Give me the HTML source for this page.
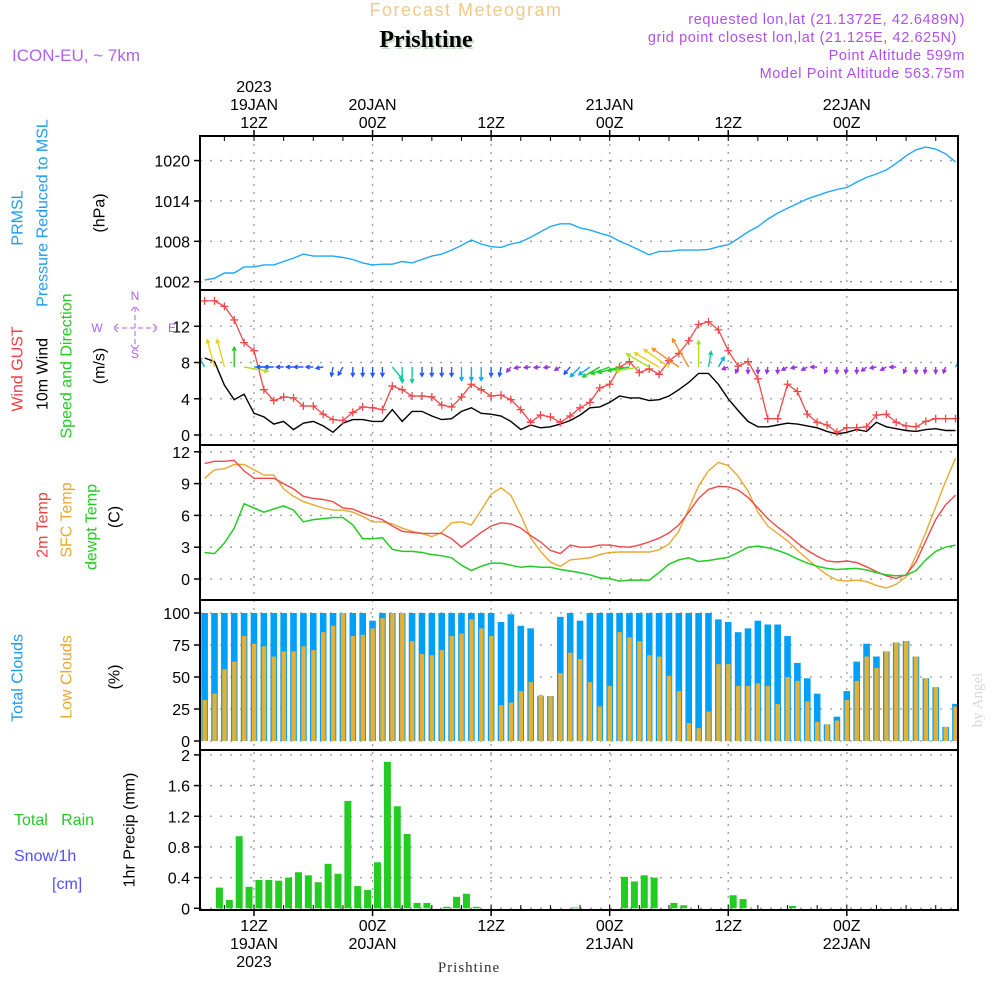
<!DOCTYPE html>
<html><head><meta charset="utf-8"><style>
html,body{margin:0;padding:0;background:#fff;}
svg{display:block;font-family:"Liberation Sans","DejaVu Sans",sans-serif;}
</style></head><body>
<svg id="chart" width="1000" height="1000" viewBox="0 0 1000 1000" xmlns="http://www.w3.org/2000/svg">
<g id="grid"></g>
<g id="marks"></g>
<g id="axes"></g>
<g id="labels">
  <text x="466" y="16" text-anchor="middle" font-size="18" fill="#f2c98a" letter-spacing="1.5">Forecast Meteogram</text>
  <text x="428" y="49" text-anchor="middle" font-size="24" font-weight="bold" fill="#c8dcc8" font-family="Liberation Serif, serif">Prishtine</text>
  <text x="426" y="47" text-anchor="middle" font-size="24" font-weight="bold" fill="#000" font-family="Liberation Serif, serif">Prishtine</text>
  <text x="12" y="61" font-size="17" fill="#b060f0">ICON-EU, ~ 7km</text>
  <text x="965" y="24" text-anchor="end" font-size="14.5" fill="#b050e8" letter-spacing="0.6">requested lon,lat (21.1372E, 42.6489N)</text>
  <text x="957" y="42" text-anchor="end" font-size="14.5" fill="#b050e8" letter-spacing="0.6">grid point closest lon,lat (21.125E, 42.625N)</text>
  <text x="965" y="60" text-anchor="end" font-size="14.5" fill="#b050e8" letter-spacing="0.6">Point Altitude 599m</text>
  <text x="965" y="78" text-anchor="end" font-size="14.5" fill="#b050e8" letter-spacing="0.6">Model Point Altitude 563.75m</text>

  <g font-size="16" text-anchor="middle" dominant-baseline="central">
    <text transform="translate(18,218) rotate(-90)" fill="#1e9cf0">PRMSL</text>
    <text transform="translate(43,213) rotate(-90)" fill="#1e9cf0">Pressure Reduced to MSL</text>
    <text transform="translate(100,213) rotate(-90)" fill="#000">(hPa)</text>
    <text transform="translate(18,369) rotate(-90)" fill="#f04040">Wind GUST</text>
    <text transform="translate(43,374) rotate(-90)" fill="#000">10m Wind</text>
    <text transform="translate(67,366) rotate(-90)" fill="#22cc22">Speed and Direction</text>
    <text transform="translate(100,366) rotate(-90)" fill="#000">(m/s)</text>
    <text transform="translate(43,525) rotate(-90)" fill="#f04040">2m Temp</text>
    <text transform="translate(67,520) rotate(-90)" fill="#eaa830">SFC Temp</text>
    <text transform="translate(92,527) rotate(-90)" fill="#22cc22">dewpt Temp</text>
    <text transform="translate(115,517) rotate(-90)" fill="#000">(C)</text>
    <text transform="translate(18,678) rotate(-90)" fill="#1e9cf0">Total Clouds</text>
    <text transform="translate(67,677) rotate(-90)" fill="#eaa830">Low Clouds</text>
    <text transform="translate(115,677) rotate(-90)" fill="#000">(%)</text>
    <text transform="translate(130,830) rotate(-90)" fill="#000">1hr Precip (mm)</text>
  </g>
  <text x="14" y="825" font-size="16" fill="#22cc22" xml:space="preserve">Total   Rain</text>
  <text x="14" y="861" font-size="16" fill="#5050ff">Snow/1h</text>
  <text x="52" y="889" font-size="16" fill="#5050ff">[cm]</text>
  <g fill="#b060f0" stroke="#b060f0" font-size="12" text-anchor="middle">
    <text x="135" y="300" stroke="none">N</text>
    <text x="135" y="358" stroke="none">S</text>
    <text x="97" y="332" stroke="none">W</text>
    <text x="172" y="332" stroke="none">E</text>
    <path d="M114 328 H157 M135 307 V349 M118 324 L113 328 L118 332 M153 324 L158 328 L153 332 M131 311 L135 306 L139 311 M131 345 L135 350 L139 345" fill="none" stroke-width="1" stroke-dasharray="5 3"/>
  </g>
  <text x="469" y="972" text-anchor="middle" font-size="15" fill="#333" font-family="Liberation Serif, serif" letter-spacing="1">Prishtine</text>
  <text transform="translate(982,700) rotate(-90)" text-anchor="middle" font-size="15" fill="#d8d8d8" font-family="Liberation Serif, serif">by Angel</text>
</g>
</svg>
<script>
// ---------- DATA ----------
// hours relative to 19JAN 12Z, hourly from -5 to 71
const startHour = -5;
const pressure = [1002.25,1002.5,1003.3,1003.3,1004.2,1004.2,1004.5,1004.5,1005.0,1005.5,1006.1,1005.8,1005.8,1005.8,1005.6,1005.3,1004.8,1004.5,1004.6,1004.6,1005.0,1004.8,1005.3,1005.8,1006.1,1006.7,1007.4,1008.2,1007.6,1007.2,1007.1,1007.6,1007.9,1008.6,1009.4,1010.2,1010.6,1010.6,1010.0,1009.7,1009.2,1008.8,1008.0,1007.4,1006.7,1006.0,1006.5,1006.5,1006.7,1006.7,1006.7,1006.8,1007.2,1007.5,1008.4,1009.4,1010.2,1011.3,1012.2,1012.9,1013.6,1014.3,1014.8,1015.3,1015.7,1016.0,1016.8,1017.5,1018.0,1018.6,1019.6,1020.7,1021.6,1022.0,1021.7,1021.0,1019.8];
const windGust = [14.8,14.8,14.2,12.7,10.2,9.3,5.0,3.8,4.2,4.1,3.2,3.2,2.3,1.7,1.6,2.5,3.1,3.0,2.8,5.4,5.0,4.3,4.3,4.2,3.3,3.1,4.2,5.6,5.0,4.3,4.4,3.9,2.8,1.4,2.2,2.0,1.4,2.1,3.0,3.6,5.2,5.6,7.5,8.1,6.9,7.3,6.7,8.2,9.0,10.4,12.2,12.5,11.6,9.3,7.6,8.1,6.2,1.8,1.8,5.6,4.8,2.3,1.4,1.1,0.3,0.8,0.8,0.9,2.2,2.3,1.4,1.0,0.9,1.5,1.8,1.8,1.8];
const wind10m = [8.5,8.1,5.5,3.9,4.5,2.4,2.0,1.2,1.5,0.6,1.3,1.5,1.0,0.3,1.3,1.7,1.7,1.5,1.5,2.8,1.5,2.6,2.6,2.1,1.7,1.8,2.6,3.0,2.4,2.3,2.1,1.5,0.6,1.1,0.8,0.9,1.2,1.6,2.2,3.0,3.1,3.6,4.3,4.1,4.1,3.8,3.9,4.3,5.0,5.8,6.8,6.8,5.6,4.0,2.7,1.5,0.9,0.9,1.1,1.3,1.2,1.0,0.8,0.4,0.1,0.3,0.6,0.4,1.4,0.9,0.7,0.5,0.4,0.6,0.7,0.5,0.5];
const windDir = [330,345,345,0,100,90,270,270,270,270,270,270,260,190,210,180,180,180,180,140,180,180,180,180,180,180,180,180,180,180,190,220,260,265,265,265,240,220,225,235,240,250,255,260,260,300,300,305,305,330,0,10,30,250,200,180,180,190,180,240,260,240,270,200,180,190,180,230,260,240,270,200,180,190,180,200,30];
const arrowSpeed = [2,6,6,4,5,3,1,1.5,1,1,1.5,1,1,1.5,1.5,1.5,1.5,1.5,1.5,3,3,3,1.5,1.5,1.5,1.5,2.5,2.5,2.5,1.5,1.5,0.8,0.8,0.8,0.8,0.8,0.8,1.5,2.5,2.5,4,4,4.5,4.5,5,5.5,6,6.5,7,7,5.5,3,2,0.8,0.8,0.8,0.8,0.8,0.8,0.8,0.8,0.8,0.8,0.8,0.8,0.8,0.8,0.8,0.8,0.8,0.8,0.8,0.8,0.8,0.8,0.8,2];
const temp2m = [10.9,11.1,11.1,11.2,10.2,9.5,9.5,9.5,9.0,8.5,7.8,7.6,7.5,7.3,6.7,6.6,6.2,5.9,5.6,5.0,4.5,4.4,4.3,4.3,4.3,3.8,3.0,3.7,4.4,5.0,5.3,5.2,4.8,4.1,3.5,2.7,2.4,3.2,3.0,3.0,3.2,3.2,3.05,3.0,3.2,3.5,3.85,4.35,5.1,6.3,7.6,8.45,8.75,8.7,8.4,7.7,6.7,5.7,4.9,4.2,3.4,2.7,2.15,1.7,1.6,1.7,1.55,1.15,0.7,0.3,0.06,0.4,1.6,3.6,5.6,7.0,7.9];
const tempSfc = [9.5,10.3,10.4,10.8,10.8,10.3,9.8,9.8,8.5,7.8,7.3,7.0,6.7,6.5,6.5,6.3,5.9,5.4,5.4,5.2,4.8,4.5,4.3,4.0,4.4,5.3,5.4,5.1,6.5,8.0,8.6,7.9,6.0,3.9,2.6,1.6,1.2,1.8,1.9,2.0,2.3,2.5,2.55,2.55,2.55,2.55,2.75,3.3,4.5,6.6,8.8,10.2,11.0,10.7,9.7,8.3,6.3,5.0,4.3,3.6,2.7,1.9,1.1,0.4,-0.1,-0.2,-0.1,-0.25,-0.6,-0.85,-0.5,0.2,2.2,4.4,6.8,9.2,11.4];
const tempDew = [2.5,2.4,3.4,4.8,7.1,6.7,6.3,6.6,6.9,6.5,5.4,5.6,5.7,5.8,5.8,5.1,3.8,3.8,3.9,2.8,2.6,2.6,2.5,2.3,2.2,2.0,1.3,0.8,1.2,1.5,1.5,1.3,1.1,1.2,1.1,1.1,0.9,0.75,0.6,0.4,0.1,0.05,-0.2,-0.1,-0.1,-0.1,0.6,1.4,1.8,2.0,1.65,1.75,1.9,2.05,2.5,3.0,3.1,2.95,2.7,2.35,1.9,1.5,1.2,1.0,0.9,0.95,1.0,0.85,0.6,0.4,0.3,0.35,0.8,1.8,2.6,3.0,3.2];
const cloudTotal = [100,100,100,100,100,100,100,100,100,100,100,100,100,100,100,100,100,94,100,100,100,100,100,100,100,100,100,100,100,100,93,99,90,88,35,35,97,100,94,100,100,100,100,100,100,100,100,100,100,100,100,100,95,93,85,88,94,91,91,82,61,49,37,13,19,39,62,76,66,70,77,78,66,49,42,11,29];
const cloudLow = [32,37,56,62,82,76,74,66,70,70,74,71,85,90,100,82,83,88,96,100,100,78,68,67,71,82,84,95,88,82,28,30,39,46,36,35,53,69,64,46,27,43,85,81,78,67,66,51,39,14,10,23,60,60,43,43,45,43,29,50,47,31,15,13,16,32,47,66,57,70,77,78,66,49,42,11,27];
const precipStart = -5.5;
const precip = [0,0,0.27,0.11,0.94,0.28,0.37,0.37,0.36,0.40,0.47,0.43,0.34,0.58,0.45,1.40,0.29,0.24,0.60,1.91,1.33,0.97,0.07,0.07,0,0.02,0.15,0.19,0.02,0,0,0,0,0,0,0,0,0,0.01,0,0,0,0,0.41,0.35,0.43,0.40,0,0.07,0.04,0,0,0,0,0.17,0.12,0,0,0,0,0.03,0,0,0,0,0,0,0,0,0,0,0,0,0,0,0,0];
const pressTicks = [1002,1008,1014,1020];
const windTicks = [0,4,8,12];
const tempTicks = [0,3,6,9,12];
const cloudTicks = [0,25,50,75,100];
const precipTicks = [0,0.4,0.8,1.2,1.6,2];
const precipTickLabels = ["0","0.4","0.8","1.2","1.6","2"];
const timeTicks = [0,12,24,36,48,60];
const timeHourLabels = ["12Z","00Z","12Z","00Z","12Z","00Z"];
const timeDayLabels = ["19JAN","20JAN","","21JAN","","22JAN"];

// ---------- SCALES ----------
const X0=200, X1=958;
const xOf = h => 254 + h*9.88;
const yP = v => 281.7 - (v-1002)*6.73;
const yW = v => 435 - v*9.06;
const yT = v => 579 - v*10.6;
const yC = v => 741 - v*1.28;
const yR = v => 908.3 - v*76.7;
const panels = [[136,290],[290,445],[445,600],[600,750],[750,910]];
const NS='http://www.w3.org/2000/svg';
function mk(tag, attrs, parent){const e=document.createElementNS(NS,tag);for(const k in attrs)e.setAttribute(k,attrs[k]);parent.appendChild(e);return e;}
const G=document.getElementById('grid'), M=document.getElementById('marks'), A=document.getElementById('axes');

const defs=mk('defs',{},M);
panels.forEach((p,i)=>{const c=mk('clipPath',{id:'cp'+i},defs);mk('rect',{x:X0,y:p[0],width:X1-X0,height:p[1]-p[0]},c);});

timeTicks.forEach(h=>{
  const l=mk('line',{x1:xOf(h),x2:xOf(h),y1:136,y2:910,stroke:'#999','stroke-width':1.3,'stroke-dasharray':'2 6'},G);
  
  
});
function hgrid(ticks, yf){ticks.forEach(t=>{
  const l=mk('line',{x1:X0,x2:X1,y1:yf(t),y2:yf(t),stroke:'#999','stroke-width':1.3,'stroke-dasharray':'2 8'},G);
  
  
});}
hgrid(pressTicks,yP);hgrid(windTicks,yW);hgrid(tempTicks,yT);hgrid(cloudTicks,yC);hgrid(precipTicks,yR);

function series(arr, yf, color, name, clip, w){
  const pts=arr.map((v,i)=>xOf(startHour+i).toFixed(1)+','+yf(v).toFixed(1)).join(' ');
  const p=mk('polyline',{points:pts,fill:'none',stroke:color,'stroke-width':w||1.4,'clip-path':'url(#cp'+clip+')'},M);
  
  
  return p;
}
cloudTotal.forEach((v,i)=>{
  const x=xOf(startHour+i);
  const b=mk('rect',{x:x-3.3,y:yC(v),width:6.6,height:yC(0)-yC(v),fill:'#009ff8','clip-path':'url(#cp3)'},M);
  
  
});
cloudLow.forEach((v,i)=>{
  const x=xOf(startHour+i);
  const b=mk('rect',{x:x-2.1,y:yC(v),width:4.4,height:yC(0)-yC(v),fill:'#e8b030','clip-path':'url(#cp3)'},M);
  
  
});
precip.forEach((v,i)=>{
  if(v<=0) return;
  const x=xOf(precipStart+i);
  const b=mk('rect',{x:x-3.5,y:yR(v),width:7,height:yR(0)-yR(v),fill:'#22cc22','clip-path':'url(#cp4)'},M);
  
  
});
series(pressure,yP,'#1ea8f8','pressure-line',0,1.4);
series(wind10m,yW,'#000','wind-10m-line',1,1.4);
series(windGust,yW,'#f04848','wind-gust-line',1,1.3);
windGust.forEach((v,i)=>{
  const x=xOf(startHour+i), y=yW(v);
  if(x<X0||x>X1) return;
  const g=mk('path',{d:`M${x-4} ${y}H${x+4}M${x} ${y-4}V${y+4}`,stroke:'#f04848','stroke-width':1.3,fill:'none'},M);
  
  
});
function spdColor(s){
  if(s<1) return '#9a30e0';
  if(s<2) return '#2255ff';
  if(s<3) return '#10a8f0';
  if(s<4) return '#10c8a0';
  if(s<4.8) return '#20cc20';
  if(s<5.8) return '#a8e020';
  if(s<6.6) return '#e8d020';
  return '#f09030';
}
windDir.forEach((d,i)=>{
  const s=arrowSpeed[i]; const x=xOf(startHour+i), y=367;
  if(x<X0||x>X1) return;
  const L=3+s*4.2, a=d*Math.PI/180;
  const hx=x+L*Math.sin(a), hy=y-L*Math.cos(a);
  const hl=4, b1=a+Math.PI-0.5, b2=a+Math.PI+0.5;
  const c=spdColor(s);
  const p=mk('path',{d:`M${x.toFixed(1)} ${y}L${hx.toFixed(1)} ${hy.toFixed(1)}M${(hx+hl*Math.sin(b1)).toFixed(1)} ${(hy-hl*Math.cos(b1)).toFixed(1)}L${hx.toFixed(1)} ${hy.toFixed(1)}L${(hx+hl*Math.sin(b2)).toFixed(1)} ${(hy-hl*Math.cos(b2)).toFixed(1)}`,stroke:c,'stroke-width':1.4,fill:'none','clip-path':'url(#cp1)'},M);
  
  
});
series(tempSfc,yT,'#eaa830','sfc-temp-line',2,1.4);
series(temp2m,yT,'#f04848','temp-2m-line',2,1.4);
series(tempDew,yT,'#22cc22','dewpoint-line',2,1.5);

mk('rect',{x:X0,y:136,width:X1-X0,height:774,fill:'none',stroke:'#000','stroke-width':2},A);
[290,445,600,750].forEach(y=>mk('line',{x1:X0,x2:X1,y1:y,y2:y,stroke:'#000','stroke-width':2},A));
function yticks(ticks, yf, labels){ticks.forEach((t,i)=>{
  mk('line',{x1:X0-6,x2:X0,y1:yf(t),y2:yf(t),stroke:'#000','stroke-width':1.5},A);
  const tx=mk('text',{x:190,y:yf(t)+6,'text-anchor':'end','font-size':16,fill:'#000'},A);
  tx.textContent=labels?labels[i]:String(t);
  
  
});}
yticks(pressTicks,yP);yticks(windTicks,yW);yticks(tempTicks,yT);yticks(cloudTicks,yC);yticks(precipTicks,yR,precipTickLabels);
for(let h=-3;h<=71;h+=3){const x=xOf(h);
  mk('line',{x1:x,x2:x,y1:136,y2:141,stroke:'#000','stroke-width':1},A);
  mk('line',{x1:x,x2:x,y1:905,y2:910,stroke:'#000','stroke-width':1},A);}
timeTicks.forEach((h,i)=>{
  const x=xOf(h);
  mk('line',{x1:x,x2:x,y1:130,y2:136,stroke:'#000','stroke-width':1.5},A);
  mk('line',{x1:x,x2:x,y1:910,y2:916,stroke:'#000','stroke-width':1.5},A);
  const t1=mk('text',{x:x,y:128,'text-anchor':'middle','font-size':16,fill:'#000'},A);t1.textContent=timeHourLabels[i];
  
  
  const b1=mk('text',{x:x,y:931,'text-anchor':'middle','font-size':16,fill:'#000'},A);b1.textContent=timeHourLabels[i];
  
  
  if(timeDayLabels[i]){
    const t2=mk('text',{x:x,y:110,'text-anchor':'middle','font-size':16,fill:'#000'},A);t2.textContent=timeDayLabels[i];
    
    
    const b2=mk('text',{x:x,y:949,'text-anchor':'middle','font-size':16,fill:'#000'},A);b2.textContent=timeDayLabels[i];
    
    
  }
  if(i===0){
    const t3=mk('text',{x:x,y:92,'text-anchor':'middle','font-size':16,fill:'#000'},A);t3.textContent='2023';
    
    
    const b3=mk('text',{x:x,y:967,'text-anchor':'middle','font-size':16,fill:'#000'},A);b3.textContent='2023';
    
    
  }
});
</script>
</body></html>
